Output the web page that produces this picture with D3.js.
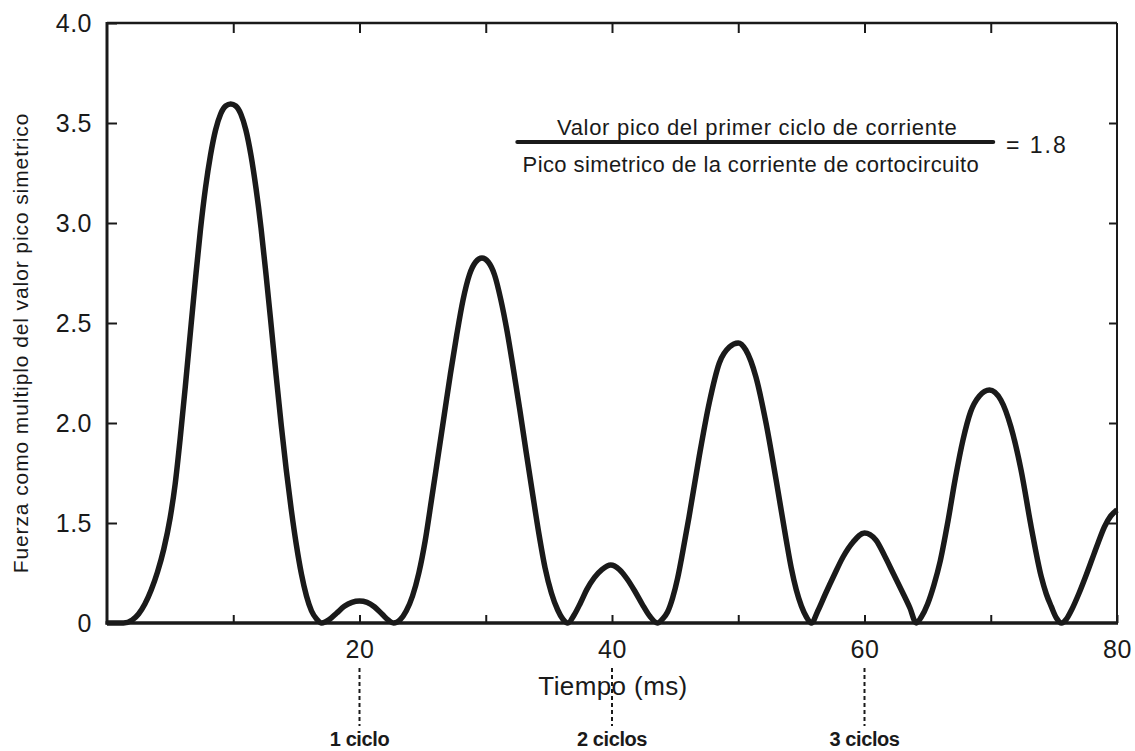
<!DOCTYPE html>
<html>
<head>
<meta charset="utf-8">
<script src="https://cdn.jsdelivr.net/npm/d3@7"></script>
<style>
body { margin: 0; background: #fff; }
text { font-family: "Liberation Sans", Arial, sans-serif; fill: #1a1a1a; }
</style>
</head>
<body>
<div id="vis"></div>
<script>
// Data
var tiempo = [0, 1.3, 2.0, 2.5, 3.0, 3.5, 4.0, 4.5, 5.0, 5.4, 5.8, 6.2, 6.6, 7.0, 7.4, 7.8, 8.2, 8.6, 9.0, 9.4, 9.8,
	10.2, 10.6, 11.0, 11.4, 11.8, 12.2, 12.6, 13.0, 13.4, 13.8, 14.2, 14.6, 15.0, 15.4, 15.8, 16.2, 16.6, 17.0,
	17.6, 18.2, 18.8, 19.4, 20.0, 20.6, 21.2, 21.8, 22.3, 22.7,
	23.2, 23.7, 24.2, 24.7, 25.2, 25.7, 26.2, 26.7, 27.2, 27.7, 28.2, 28.7, 29.2, 29.7,
	30.2, 30.7, 31.2, 31.7, 32.2, 32.7, 33.2, 33.7, 34.2, 34.7, 35.2, 35.7, 36.1, 36.5,
	37.0, 37.5, 38.0, 38.6, 39.2, 39.9, 40.6, 41.2, 41.8, 42.4, 43.0, 43.6,
	44.0, 44.4, 44.8, 45.2, 45.6, 46.1, 46.9, 47.7, 48.5, 49.3, 50.0, 50.6, 51.4, 52.2, 53.0, 53.8, 54.2, 54.6, 55.0, 55.4, 55.8,
	56.3, 56.9, 57.6, 58.3, 59.1, 60.0, 60.9, 61.6, 62.3, 63.0, 63.6, 64.1,
	64.5, 65.0, 65.5, 66.0, 66.6, 67.2, 67.8, 68.4, 69.1, 69.9, 70.8, 71.6, 72.4, 73.2, 74.0, 74.4, 74.8, 75.2, 75.6,
	76.0, 76.4, 77.0, 77.5, 78.0, 78.5, 79.0, 79.5, 80];
var fuerza = [0, 0, 0.045, 0.135, 0.285, 0.495, 0.765, 1.11, 1.525, 1.695, 1.925, 2.18, 2.45, 2.715, 2.965, 3.175, 3.34, 3.465, 3.545, 3.585, 3.595,
	3.585, 3.545, 3.465, 3.34, 3.175, 2.975, 2.74, 2.49, 2.235, 1.99, 1.765, 1.565, 1.17, 0.735, 0.405, 0.18, 0.06, 0,
	0.05, 0.15, 0.25, 0.31, 0.33, 0.31, 0.24, 0.13, 0.04, 0,
	0.045, 0.18, 0.405, 0.75, 1.23, 1.615, 1.825, 2.035, 2.245, 2.44, 2.615, 2.74, 2.805, 2.825,
	2.805, 2.74, 2.615, 2.455, 2.265, 2.065, 1.855, 1.65, 1.35, 0.825, 0.45, 0.195, 0.06, 0,
	0.12, 0.3, 0.5, 0.68, 0.8, 0.87, 0.8, 0.66, 0.48, 0.28, 0.1, 0,
	0.06, 0.165, 0.375, 0.675, 1.065, 1.53, 1.83, 2.1, 2.3, 2.38, 2.4, 2.365, 2.23, 2.0, 1.715, 1.245, 0.825, 0.495, 0.255, 0.09, 0,
	0.18, 0.435, 0.72, 0.99, 1.215, 1.35, 1.245, 1.005, 0.735, 0.465, 0.225, 0,
	0.09, 0.285, 0.57, 0.93, 1.505, 1.725, 1.915, 2.055, 2.135, 2.165, 2.115, 1.98, 1.765, 1.445, 0.695, 0.435, 0.245, 0.075, 0,
	0.06, 0.195, 0.45, 0.69, 0.945, 1.2, 1.44, 1.535, 1.565];

var yTicks = [0, 1.5, 2.0, 2.5, 3.0, 3.5, 4.0];
var yTickLabels = ["0", "1.5", "2.0", "2.5", "3.0", "3.5", "4.0"];
var xTicks = [10, 20, 30, 40, 50, 60, 70, 80];
var xTickLabels = ["", "20", "", "40", "", "60", "", "80"];
var ciclos = [20, 40, 60];
var cicloLabels = ["1 ciclo", "2 ciclos", "3 ciclos"];

var numerador = "Valor pico del primer ciclo de corriente";
var denominador = "Pico simetrico de la corriente de cortocircuito";
var relacion = "= 1.8";

// Layout Settings
var margin = {top: 23, right: 18, bottom: 128, left: 107},
	width = 1135 - margin.left - margin.right,
	height = 751 - margin.top - margin.bottom;

var ink = "#1a1a1a";

var svg = d3.select("#vis")
			.append("svg")
			.attr("width", width + margin.left + margin.right)
			.attr("height", height + margin.top + margin.bottom);

var g = svg.append("g")
		   .attr("transform", "translate(" + margin.left + "," + margin.top + ")");

var x = d3.scaleLinear()
		  .domain([0, 80])
		  .range([0, width]);

// the axis is not uniform: 0 -> 1.5 takes one step, then 0.5 per step
var y = d3.scaleLinear()
		  .domain([0, 1.5, 4.0])
		  .range([height, height - height / 6, 0]);

var data = tiempo.map(function(t, i) { return {t: t, f: fuerza[i]}; });

////  Axes  ////
var xAxis = d3.axisBottom(x)
			  .tickValues(xTicks)
			  .tickSize(-8)
			  .tickPadding(17)
			  .tickFormat(function(d, i) { return xTickLabels[i]; });

g.append("g")
 .attr("class", "x axis")
 .attr("transform", "translate(0," + height + ")")
 .call(xAxis);

var yAxis = d3.axisLeft(y)
			  .tickValues(yTicks)
			  .tickSize(-10)
			  .tickPadding(15)
			  .tickFormat(function(d, i) { return yTickLabels[i]; });

g.append("g")
 .attr("class", "y axis")
 .call(yAxis);

// mirrored ticks on top and right
g.append("g")
 .attr("class", "top axis")
 .call(d3.axisTop(x).tickValues(xTicks.slice(0, -1)).tickSize(-10).tickFormat(""));

g.append("g")
 .attr("class", "right axis")
 .attr("transform", "translate(" + width + ",0)")
 .call(d3.axisRight(y).tickValues(yTicks.slice(1, -1)).tickSize(-8).tickFormat(""));

g.selectAll(".axis .domain").remove();
g.selectAll(".axis line").attr("stroke", ink).attr("stroke-width", 2);
g.selectAll(".x.axis text, .y.axis text")
 .style("font-size", "25px")
 .style("letter-spacing", "0.5px")
 .attr("fill", ink);

// frame
g.append("line").attr("x1", 0).attr("x2", width).attr("y1", 0).attr("y2", 0)
 .attr("stroke", ink).attr("stroke-width", 2.5);
g.append("line").attr("x1", width).attr("x2", width).attr("y1", 0).attr("y2", height)
 .attr("stroke", ink).attr("stroke-width", 2);
g.append("line").attr("x1", 0).attr("x2", 0).attr("y1", -1).attr("y2", height + 1.5)
 .attr("stroke", ink).attr("stroke-width", 3);
g.append("line").attr("x1", -1.5).attr("x2", width + 1).attr("y1", height).attr("y2", height)
 .attr("stroke", ink).attr("stroke-width", 3.5);

////  Curve  ////
var line = d3.line()
			 .x(function(d) { return x(d.t); })
			 .y(function(d) { return y(d.f); })
			 .curve(d3.curveMonotoneX);

g.append("path")
 .datum(data)
 .attr("fill", "none")
 .attr("stroke", ink)
 .attr("stroke-width", 5.5)
 .attr("stroke-linejoin", "round")
 .attr("d", line);

////  Labels  ////
g.append("text")
 .attr("x", x(40) + 1)
 .attr("y", height + 72)
 .attr("text-anchor", "middle")
 .style("font-size", "26px")
 .style("letter-spacing", "0.4px")
 .text("Tiempo (ms)");

svg.append("text")
   .attr("transform", "translate(21," + (margin.top + 320) + ") rotate(-90)")
   .attr("dy", "0.35em")
   .attr("text-anchor", "middle")
   .style("font-size", "21px")
   .style("letter-spacing", "0.9px")
   .text("Fuerza como multiplo del valor pico simetrico");

// cycle markers below the axis
var marks = g.selectAll(".ciclo")
			 .data(ciclos)
			 .enter()
			 .append("g")
			 .attr("class", "ciclo")
			 .attr("transform", function(d) { return "translate(" + x(d) + ",0)"; });

marks.append("line")
	 .attr("y1", height + 45)
	 .attr("y2", height + 103)
	 .attr("stroke", ink)
	 .attr("stroke-width", 2)
	 .attr("stroke-dasharray", "4,3");

marks.append("text")
	 .attr("y", height + 123)
	 .attr("text-anchor", "middle")
	 .style("font-size", "20px")
	 .style("font-weight", "bold")
	 .style("letter-spacing", "-0.4px")
	 .text(function(d, i) { return cicloLabels[i]; });

// ratio annotation
var ratio = g.append("g")
			 .attr("class", "ratio");

ratio.append("text")
	 .attr("x", x(51.5))
	 .attr("y", 112)
	 .attr("text-anchor", "middle")
	 .style("font-size", "22px")
	 .style("letter-spacing", "0.7px")
	 .text(numerador);

ratio.append("line")
	 .attr("x1", x(32.5))
	 .attr("x2", x(70.2))
	 .attr("y1", 119)
	 .attr("y2", 119)
	 .attr("stroke", ink)
	 .attr("stroke-width", 4)
	 .attr("stroke-linecap", "round");

ratio.append("text")
	 .attr("x", x(51))
	 .attr("y", 149)
	 .attr("text-anchor", "middle")
	 .style("font-size", "22px")
	 .style("letter-spacing", "0.4px")
	 .text(denominador);

ratio.append("text")
	 .attr("x", x(71.2))
	 .attr("y", 130)
	 .style("font-size", "23px")
	 .style("letter-spacing", "2px")
	 .text(relacion);
</script>
</body>
</html>
